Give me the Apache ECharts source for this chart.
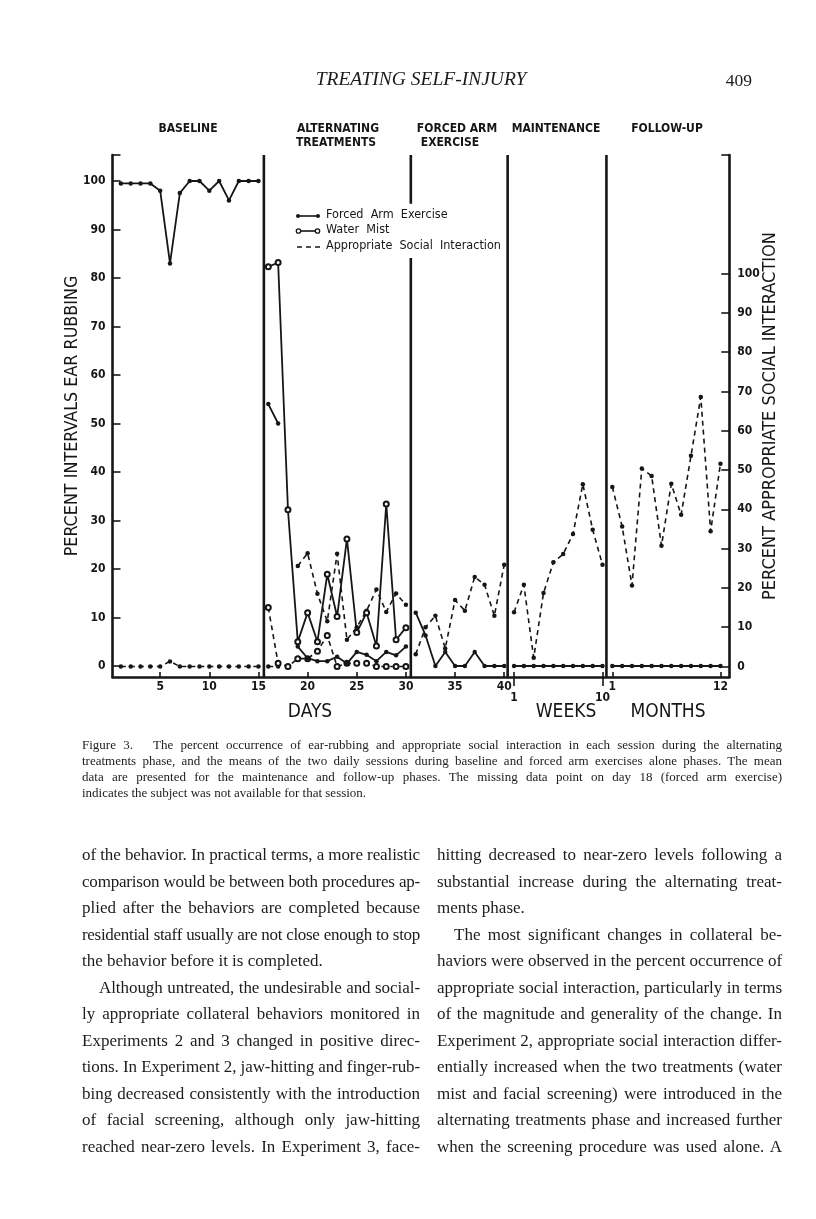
<!DOCTYPE html>
<html>
<head>
<meta charset="utf-8">
<script src="https://cdn.jsdelivr.net/npm/echarts@6/dist/echarts.min.js"></script>
<style>
  html, body { margin: 0; padding: 0; background: #fff; }
  #page { position: relative; width: 816px; height: 1219px; overflow: hidden; background: #fff; }
  #chart { position: absolute; left: 0; top: 0; width: 816px; height: 1219px; }
  .serif { position: absolute; font-family: "Liberation Serif", "DejaVu Serif", serif; color: #1c1c1c; }
  .ln { text-align: justify; text-align-last: justify; white-space: normal; }
  .ln.end { text-align-last: left; }
</style>
</head>
<body>
<div id="page">
  <div id="chart"></div>
  <div class="serif" style="left:0;width:842px;top:68px;text-align:center;font-style:italic;font-size:19.5px;">TREATING SELF-INJURY</div>
  <div class="serif" style="left:700px;width:52px;top:70px;text-align:right;font-size:17.5px;">409</div>
  <div class="serif" id="caption" style="left:82px;width:700px;top:737px;font-size:13px;line-height:16px;"></div>
  <div class="serif" id="colL" style="left:82px;width:338px;top:842px;font-size:17px;line-height:26.5px;"></div>
  <div class="serif" id="colR" style="left:437px;width:345px;top:842px;font-size:17px;line-height:26.5px;"></div>
</div>
<script>
// ---- data ----
// x: days 1-40, then weeks 1-10 (maintenance), then months 1-12 (follow-up)
const baselineDays = [1, 2, 3, 4, 5, 6, 7, 8, 9, 10, 11, 12, 13, 14, 15]
const altDays = [16, 17, 18, 19, 20, 21, 22, 23, 24, 25, 26, 27, 28, 29, 30]
const faeDays = [31, 32, 33, 34, 35, 36, 37, 38, 39, 40]
const weeks = [1, 2, 3, 4, 5, 6, 7, 8, 9, 10]
const months = [1, 2, 3, 4, 5, 6, 7, 8, 9, 10, 11, 12]

// percent intervals ear rubbing (left axis)
const baselineEar = [99.5, 99.5, 99.5, 99.5, 98, 83, 97.5, 100, 100, 98, 100, 96, 100, 100, 100]
const altFaeEar = [54, 50, null, 4, 1.6, 1, 1, 1.9, 0.5, 2.9, 2.3, 1, 2.9, 2.2, 4]
const altMistEar = [82.3, 83.2, 32.2, 5, 11, 5, 18.9, 10.2, 26.2, 6.9, 11, 4.1, 33.4, 5.4, 7.9]
const faeEar = [11, 6.3, 0, 2.9, 0, 0, 2.9, 0, 0, 0]
const maintEar = [0, 0, 0, 0, 0, 0, 0, 0, 0, 0]
const followEar = [0, 0, 0, 0, 0, 0, 0, 0, 0, 0, 0, 0]

// percent appropriate social interaction (right axis)
const baselineSocial = [0, 0, 0, 0, 0, 1.3, 0, 0, 0, 0, 0, 0, 0, 0, 0]
const altFaeSocial = [0, 0, null, 25.6, 28.8, 18.5, 11.5, 28.7, 6.8, 10, 14.2, 19.6, 13.9, 18.6, 15.7]
const altMistSocial = [15, 0.8, 0, 2, 2, 3.9, 7.9, 0, 0.8, 0.8, 0.8, 0, 0, 0, 0]
const faeSocial = [3.1, 10, 12.9, 4.6, 16.9, 14.2, 22.8, 20.8, 12.9, 25.9]
const maintSocial = [13.8, 20.8, 2.2, 18.7, 26.5, 28.6, 33.7, 46.4, 34.8, 25.9]
const followSocial = [45.7, 35.6, 20.6, 50.4, 48.5, 30.7, 46.5, 38.6, 53.6, 68.6, 34.4, 51.6]

// phase change lines (x positions on the running session axis)
const phaseBreaks = [15.55, 30.5, 40.35, 50.4]

const leftTicks = [0, 10, 20, 30, 40, 50, 60, 70, 80, 90, 100]
const rightTicks = [0, 10, 20, 30, 40, 50, 60, 70, 80, 90, 100]
const dayTicks = [5, 10, 15, 20, 25, 30, 35, 40]

// ---- text ----
const captionLines = [
  'Figure 3.\u2003 The percent occurrence of ear-rubbing and appropriate social interaction in each session during the alternating',
  'treatments phase, and the means of the two daily sessions during baseline and forced arm exercises alone phases. The mean',
  'data are presented for the maintenance and follow-up phases. The missing data point on day 18 (forced arm exercise)',
  'indicates the subject was not available for that session.',
]
const leftLines = [
  'of the behavior. In practical terms, a more realistic',
  'comparison would be between both procedures ap-',
  'plied after the behaviors are completed because',
  'residential staff usually are not close enough to stop',
  'the behavior before it is completed.',
  '\u2003Although untreated, the undesirable and social-',
  'ly appropriate collateral behaviors monitored in',
  'Experiments 2 and 3 changed in positive direc-',
  'tions. In Experiment 2, jaw-hitting and finger-rub-',
  'bing decreased consistently with the introduction',
  'of facial screening, although only jaw-hitting',
  'reached near-zero levels. In Experiment 3, face-',
]
const rightLines = [
  'hitting decreased to near-zero levels following a',
  'substantial increase during the alternating treat-',
  'ments phase.',
  '\u2003The most significant changes in collateral be-',
  'haviors were observed in the percent occurrence of',
  'appropriate social interaction, particularly in terms',
  'of the magnitude and generality of the change. In',
  'Experiment 2, appropriate social interaction differ-',
  'entially increased when the two treatments (water',
  'mist and facial screening) were introduced in the',
  'alternating treatments phase and increased further',
  'when the screening procedure was used alone. A',
]
const paraEnds = { caption: [3], colL: [4], colR: [2] }

function fillLines(id, lines) {
  const box = document.getElementById(id)
  const lh = parseFloat(box.style.lineHeight)
  lines.forEach((t, i) => {
    const d = document.createElement('div')
    d.className = 'ln' + (paraEnds[id].includes(i) ? ' end' : '')
    d.textContent = t
    box.appendChild(d)
    // squeeze a line that would wrap
    let ls = 0
    while (d.scrollHeight > lh * 1.5 && ls > -2) {
      ls -= 0.05
      d.style.letterSpacing = ls + 'px'
    }
  })
}
fillLines('caption', captionLines)
fillLines('colL', leftLines)
fillLines('colR', rightLines)

// ---- chart ----
const INK = '#161616'
const FONT = '"DejaVu Sans Condensed", "Liberation Sans Narrow", "Roboto Condensed", "DejaVu Sans", sans-serif'
const Y_L = [-2.27, 105.36]
const Y_R = [-2.67, 130.15]
const X_R = [0.15, 62.9]

const pts = (xs, ys) => xs.map((x, i) => [x, ys[i] == null ? '-' : ys[i]])
const weekX = weeks.map(w => w + 40)
const monthX = months.map(m => m + 50)

function earSeries(xs, ys, open) {
  return {
    type: 'line', xAxisIndex: 0, yAxisIndex: 0, data: pts(xs, ys),
    symbol: open ? 'emptyCircle' : 'circle', symbolSize: open ? 5 : 4.5, showAllSymbol: true,
    connectNulls: false, silent: true, z: 4,
    lineStyle: { color: INK, width: 1.8 },
    itemStyle: { color: INK, borderWidth: open ? 1.3 : 0 },
  }
}
function socialSeries(xs, ys, open) {
  return {
    type: 'line', xAxisIndex: 0, yAxisIndex: 1, data: pts(xs, ys),
    symbol: open ? 'emptyCircle' : 'circle', symbolSize: open ? 5 : 4.5, showAllSymbol: true,
    connectNulls: false, silent: true, z: 3,
    lineStyle: { color: INK, width: 1.6, type: [5, 4] },
    itemStyle: { color: INK, borderWidth: open ? 1.3 : 0 },
  }
}
function phaseSeries(x, i) {
  // second phase line leaves a gap for the legend
  const data = i === 1
    ? [[x, Y_L[0]], [x, 84.1], [x, '-'], [x, 95.3], [x, Y_L[1]]]
    : [[x, Y_L[0]], [x, Y_L[1]]]
  return {
    type: 'line', xAxisIndex: 0, yAxisIndex: 0, data, symbol: 'none', silent: true, z: 2,
    connectNulls: false, lineStyle: { color: INK, width: 2.6 },
  }
}

const chart = echarts.init(document.getElementById('chart'))

const txt = (text, x, y, size, align, weight) => ({
  type: 'text', x, y, silent: true,
  style: {
    text, font: `${weight || 'bold'} ${size}px ${FONT}`, fill: INK,
    textAlign: align || 'center', textVerticalAlign: 'middle',
  },
})
const labelStyle = { color: INK, fontSize: 12, fontFamily: FONT, fontWeight: 'bold' }

chart.setOption({
  animation: false,
  backgroundColor: 'transparent',
  grid: { left: 112.5, right: 86.7, top: 155, bottom: 542, containLabel: false },
  xAxis: [
    {
      type: 'value', min: X_R[0], max: X_R[1], position: 'bottom',
      axisLine: { show: true, onZero: false, lineStyle: { color: INK, width: 2.6 } },
      axisTick: { show: true, inside: true, length: 5, customValues: dayTicks.concat([41, 50, 51, 62]), lineStyle: { color: INK, width: 1.6 } },
      axisLabel: {
        ...labelStyle, customValues: dayTicks.concat([51, 62]), margin: 4,
        formatter: v => String(v > 50 ? v - 50 : v),
      },
      splitLine: { show: false },
    },
    {
      type: 'value', min: X_R[0], max: X_R[1], position: 'bottom', offset: 0,
      axisLine: { show: false, onZero: false },
      axisTick: { show: true, inside: false, length: 9, customValues: [41, 50], lineStyle: { color: INK, width: 1.6 } },
      axisLabel: {
        ...labelStyle, customValues: [41, 50], margin: 15,
        formatter: v => String(v - 40),
      },
      splitLine: { show: false },
    },
  ],
  yAxis: [
    {
      type: 'value', min: Y_L[0], max: Y_L[1], position: 'left',
      axisLine: { show: true, onZero: false, lineStyle: { color: INK, width: 2.6 } },
      axisTick: { show: true, inside: true, length: 8, customValues: leftTicks.concat([Y_L[1]]), lineStyle: { color: INK, width: 1.6 } },
      axisLabel: { ...labelStyle, customValues: leftTicks, margin: 7 },
      splitLine: { show: false },
      name: 'PERCENT INTERVALS EAR RUBBING', nameLocation: 'middle', nameRotate: 90, nameGap: 31,
      nameMoveOverlap: false,
      nameTextStyle: { color: INK, fontSize: 17.8, fontFamily: FONT },
    },
    {
      type: 'value', min: Y_R[0], max: Y_R[1], position: 'right',
      axisLine: { show: true, onZero: false, lineStyle: { color: INK, width: 2.6 } },
      axisTick: { show: true, inside: true, length: 8, customValues: rightTicks.concat([Y_R[1]]), lineStyle: { color: INK, width: 1.6 } },
      axisLabel: { ...labelStyle, customValues: rightTicks, margin: 8 },
      splitLine: { show: false },
      name: 'PERCENT APPROPRIATE SOCIAL INTERACTION', nameLocation: 'middle', nameRotate: 90, nameGap: 32,
      nameMoveOverlap: false,
      nameTextStyle: { color: INK, fontSize: 18, fontFamily: FONT },
    },
  ],
  series: [
    ...phaseBreaks.map(phaseSeries),
    earSeries(baselineDays, baselineEar, false),
    earSeries(altDays, altFaeEar, false),
    earSeries(altDays, altMistEar, true),
    earSeries(faeDays, faeEar, false),
    earSeries(weekX, maintEar, false),
    earSeries(monthX, followEar, false),
    socialSeries(baselineDays, baselineSocial, false),
    socialSeries(altDays, altFaeSocial, false),
    socialSeries(altDays, altMistSocial, true),
    socialSeries(faeDays, faeSocial, false),
    socialSeries(weekX, maintSocial, false),
    socialSeries(monthX, followSocial, false),
  ],
  graphic: [
    // phase headings
    txt('BASELINE', 188, 129, 12),
    txt('ALTERNATING', 338, 129, 12),
    txt('TREATMENTS', 336, 143, 12),
    txt('FORCED ARM', 457, 129, 12),
    txt('EXERCISE', 450, 143, 12),
    txt('MAINTENANCE', 556, 129, 12),
    txt('FOLLOW-UP', 667, 129, 12),
    // time unit labels
    txt('DAYS', 310, 712, 19, 'center', 'normal'),
    txt('WEEKS', 566, 712, 19, 'center', 'normal'),
    txt('MONTHS', 668, 712, 19, 'center', 'normal'),
    // legend
    { type: 'line', silent: true, shape: { x1: 298, y1: 216, x2: 318, y2: 216 }, style: { stroke: INK, lineWidth: 1.6 } },
    { type: 'circle', silent: true, shape: { cx: 298, cy: 216, r: 2 }, style: { fill: INK } },
    { type: 'circle', silent: true, shape: { cx: 318, cy: 216, r: 2 }, style: { fill: INK } },
    txt('Forced  Arm  Exercise', 326, 215, 12.5, 'left', 'normal'),
    { type: 'line', silent: true, shape: { x1: 300, y1: 231, x2: 316, y2: 231 }, style: { stroke: INK, lineWidth: 1.6 } },
    { type: 'circle', silent: true, shape: { cx: 298.5, cy: 231, r: 2.2 }, style: { fill: '#fff', stroke: INK, lineWidth: 1.3 } },
    { type: 'circle', silent: true, shape: { cx: 317.5, cy: 231, r: 2.2 }, style: { fill: '#fff', stroke: INK, lineWidth: 1.3 } },
    txt('Water  Mist', 326, 230, 12.5, 'left', 'normal'),
    { type: 'line', silent: true, shape: { x1: 297, y1: 247, x2: 320, y2: 247 }, style: { stroke: INK, lineWidth: 1.6, lineDash: [5, 4] } },
    txt('Appropriate  Social  Interaction', 326, 246, 12.5, 'left', 'normal'),
  ],
})
</script>
</body>
</html>
